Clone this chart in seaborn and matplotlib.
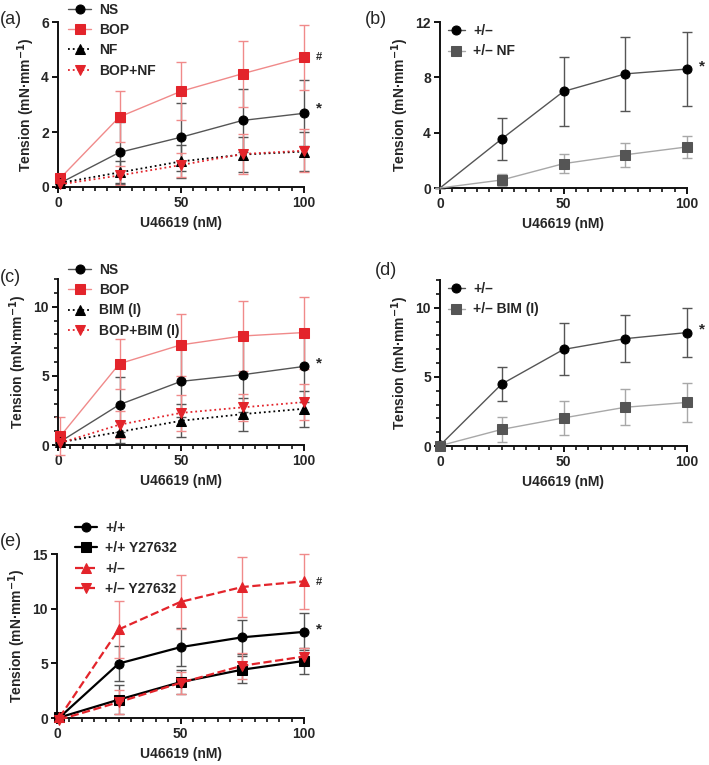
import matplotlib
matplotlib.use("Agg")
import matplotlib.pyplot as plt
from matplotlib.ticker import MultipleLocator
import seaborn as sns

sns.set_theme(style="ticks")
plt.rcParams['font.family'] = ['Liberation Sans', 'DejaVu Sans']
plt.rcParams['font.weight'] = 'bold'
plt.rcParams['mathtext.default'] = 'bf'

# concentrations of U46619 (nM)
x_left = [1, 25, 50, 75, 100]
x_right = [0, 25, 50, 75, 100]

# (a)
a_ns = [0.15, 1.26, 1.81, 2.42, 2.68]
a_ns_sd = [0.05, 1.1, 1.23, 1.15, 1.2]
a_bop = [0.33, 2.55, 3.48, 4.12, 4.72]
a_bop_sd = [0.1, 0.93, 1.05, 1.2, 1.18]
a_nf = [0.15, 0.53, 0.93, 1.18, 1.29]
a_nf_sd = [0.05, 0.43, 0.6, 0.65, 0.7]
a_bopnf = [0.1, 0.42, 0.8, 1.2, 1.32]
a_bopnf_sd = [0.05, 0.35, 0.45, 0.72, 0.78]

# (b)
b_het = [0, 3.55, 6.98, 8.25, 8.6]
b_het_sd = [0, 1.5, 2.5, 2.7, 2.65]
b_het_nf = [0, 0.58, 1.76, 2.4, 2.97]
b_het_nf_sd = [0, 0.42, 0.68, 0.88, 0.8]

# (c)
c_ns = [0.25, 2.92, 4.6, 5.08, 5.68]
c_ns_sd = [0.1, 2.0, 2.6, 2.7, 2.6]
c_bop = [0.65, 5.88, 7.24, 7.88, 8.13]
c_bop_sd = [1.38, 1.8, 2.25, 2.52, 2.6]
c_bim = [0.2, 0.95, 1.75, 2.23, 2.62]
c_bim_sd = [0.05, 0.8, 1.2, 1.2, 1.3]
c_bopbim = [0.15, 1.47, 2.32, 2.72, 3.1]
c_bopbim_sd = [0.05, 1.0, 1.3, 1.0, 1.3]

# (d)
d_het = [0.05, 4.48, 6.98, 7.76, 8.2]
d_het_sd = [0, 1.2, 1.88, 1.7, 1.8]
d_het_bim = [0.02, 1.2, 2.03, 2.8, 3.15]
d_het_bim_sd = [0, 0.93, 1.2, 1.3, 1.4]

# (e)
e_wt = [0.05, 4.98, 6.48, 7.38, 7.88]
e_wt_sd = [0, 1.6, 1.75, 1.55, 1.7]
e_wt_y = [0.05, 1.68, 3.28, 4.42, 5.22]
e_wt_y_sd = [0, 1.35, 1.1, 1.25, 1.15]
e_het = [0.05, 8.1, 10.62, 11.98, 12.5]
e_het_sd = [0, 2.6, 2.5, 2.75, 2.5]
e_het_y = [-0.15, 1.45, 3.22, 4.78, 5.62]
e_het_y_sd = [0, 1.1, 1.0, 1.2, 0.8]

RED = '#e3242b'
LRED = '#f08a8a'
GRAY = '#555555'
LGRAY = '#a8a8a8'


def series(ax, x, y, sd, label, mcolor, marker, lcolor, ecolor, ls='-', lw=1.0,
           ms=6.5, markevery=None):
    sns.lineplot(x=x, y=y, ax=ax, color=lcolor, linestyle=ls, lw=lw, marker=marker,
                 markersize=ms, markerfacecolor=mcolor, markeredgecolor=mcolor,
                 label=label, clip_on=False, zorder=3, markevery=markevery)
    eb = ax.errorbar(x, y, yerr=sd, fmt='none', ecolor=ecolor, elinewidth=1.0,
                     capsize=3.5, capthick=1.0, zorder=2)
    for art in eb.lines[1] + eb.lines[2]:
        art.set_clip_on(False)


def style(ax, ymax, ystep, yminor=None):
    ax.set_xlim(0, 100)
    ax.set_ylim(0, ymax)
    ax.xaxis.set_major_locator(MultipleLocator(50))
    ax.xaxis.set_minor_locator(MultipleLocator(5))
    ax.yaxis.set_major_locator(MultipleLocator(ystep))
    if yminor:
        ax.yaxis.set_minor_locator(MultipleLocator(yminor))
    sns.despine(ax=ax)
    for s in ['left', 'bottom']:
        ax.spines[s].set_linewidth(1.4)
        ax.spines[s].set_color('#111111')
    ax.tick_params(which='major', direction='out', length=4.5, width=1.4, labelsize=10,
                   color='#111111', pad=2)
    ax.tick_params(which='minor', direction='out', length=3, width=1.2, color='#111111')
    ax.set_xlabel('U46619 (nM)', fontsize=10, fontweight='bold', labelpad=4)
    ax.set_ylabel(r'Tension (mN·mm$^{-1}$)', fontsize=10, fontweight='bold', labelpad=3)
    for t in ax.get_xticklabels() + ax.get_yticklabels():
        t.set_fontweight('bold')


def legend(ax, x0, y0, hl=1.6):
    ax.legend(loc='upper left', bbox_to_anchor=(x0, y0), frameon=False,
              handlelength=hl, handletextpad=0.6, labelspacing=0.45, borderaxespad=0,
              prop={'weight': 'bold', 'size': 10})


fig = plt.figure(figsize=(7.09, 7.65), dpi=100)
W, H = 709, 765


def axes_px(x0, y0, x1, y1):
    return fig.add_axes([x0 / W, 1 - y1 / H, (x1 - x0) / W, (y1 - y0) / H])


# (a)
ax = axes_px(58, 22, 304, 187)
series(ax, x_left, a_ns, a_ns_sd, 'NS', 'black', 'o', GRAY, GRAY)
series(ax, x_left, a_bop, a_bop_sd, 'BOP', RED, 's', LRED, LRED)
series(ax, x_left, a_nf, a_nf_sd, 'NF', 'black', '^', 'black', GRAY, ls=':', lw=1.3)
series(ax, x_left, a_bopnf, a_bopnf_sd, 'BOP+NF', RED, 'v', RED, LRED, ls=':', lw=1.3)
style(ax, 6, 2)
legend(ax, 0.02, 1.15)
ax.text(106, 4.72, '#', fontsize=8, ha='center', va='center')
ax.text(106, 2.85, '*', fontsize=11, ha='center', va='center')
fig.text(0.0, 1 - 20 / H, '(a)', fontsize=13, fontweight='normal', va='center')

# (b)
ax = axes_px(440, 22, 687, 188)
series(ax, x_right, b_het, b_het_sd, '+/–', 'black', 'o', GRAY, GRAY,
       markevery=[1, 2, 3, 4])
series(ax, x_right, b_het_nf, b_het_nf_sd, '+/– NF', GRAY, 's', LGRAY, LGRAY,
       markevery=[1, 2, 3, 4])
style(ax, 12, 4)
legend(ax, 0.01, 1.02, hl=1.2)
ax.text(106, 8.75, '*', fontsize=11, ha='center', va='center')
fig.text(365 / W, 1 - 20 / H, '(b)', fontsize=13, fontweight='normal', va='center')

# (c)
ax = axes_px(58, 279, 304, 445)
series(ax, x_left, c_ns, c_ns_sd, 'NS', 'black', 'o', GRAY, GRAY)
series(ax, x_left, c_bop, c_bop_sd, 'BOP', RED, 's', LRED, LRED)
series(ax, x_left, c_bim, c_bim_sd, 'BIM (I)', 'black', '^', 'black', GRAY, ls=':', lw=1.3)
series(ax, x_left, c_bopbim, c_bopbim_sd, 'BOP+BIM (I)', RED, 'v', RED, LRED, ls=':', lw=1.3)
style(ax, 12, 5, yminor=1)
legend(ax, 0.02, 1.13)
ax.text(106, 5.9, '*', fontsize=11, ha='center', va='center')
fig.text(0.0, 1 - 277 / H, '(c)', fontsize=13, fontweight='normal', va='center')

# (d)
ax = axes_px(440, 280, 687, 446)
series(ax, x_right, d_het, d_het_sd, '+/–', 'black', 'o', GRAY, GRAY)
series(ax, x_right, d_het_bim, d_het_bim_sd, '+/– BIM (I)', GRAY, 's', LGRAY, LGRAY)
style(ax, 12, 5, yminor=1)
legend(ax, 0.01, 1.02, hl=1.2)
ax.text(106, 8.4, '*', fontsize=11, ha='center', va='center')
fig.text(375 / W, 1 - 270 / H, '(d)', fontsize=13, fontweight='normal', va='center')

# (e)
ax = axes_px(57, 554, 304, 718)
series(ax, x_left, e_wt, e_wt_sd, '+/+', 'black', 'o', 'black', GRAY, lw=1.6)
series(ax, x_left, e_wt_y, e_wt_y_sd, '+/+ Y27632', 'black', 's', 'black', GRAY, lw=1.6)
series(ax, x_left, e_het, e_het_sd, '+/–', RED, '^', RED, LRED, ls='--', lw=1.6)
series(ax, x_left, e_het_y, e_het_y_sd, '+/– Y27632', RED, 'v', RED, LRED, ls='--', lw=1.6)
style(ax, 15, 5)
legend(ax, 0.05, 1.235, hl=1.6)
ax.text(106, 12.4, '#', fontsize=8, ha='center', va='center')
ax.text(106, 8.1, '*', fontsize=11, ha='center', va='center')
fig.text(0.0, 1 - 541 / H, '(e)', fontsize=13, fontweight='normal', va='center')

fig.savefig('out.png', dpi=100)
